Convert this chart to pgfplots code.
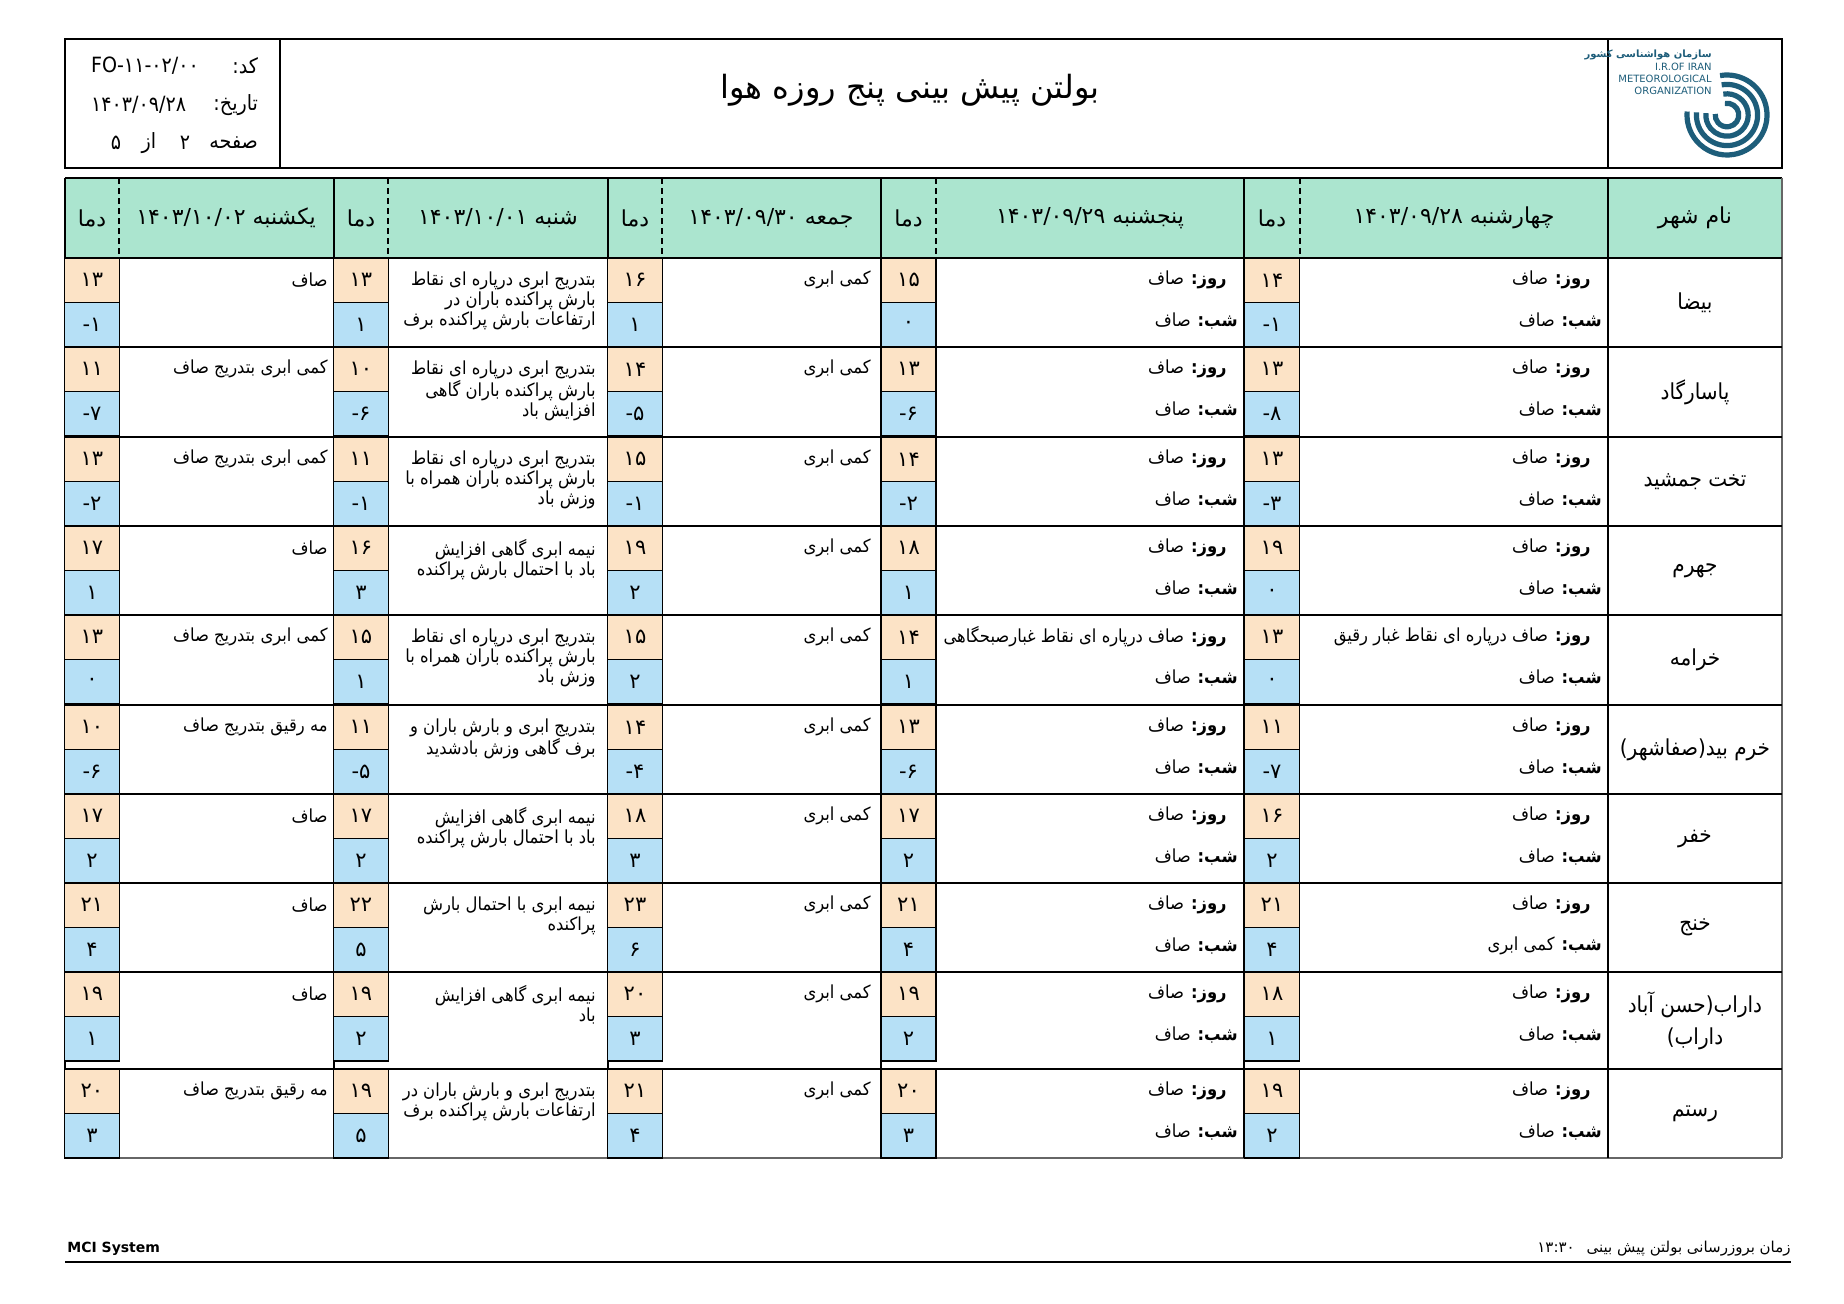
\documentclass[border=0pt]{standalone}
\usepackage{fontspec}
\usepackage{pgfplots}
\usepackage{pgfplotstable}
\pgfplotsset{compat=1.18}
\TeXXeTstate=1
\setmainfont{DejaVu Sans}
\newfontfamily\fa[Script=Arabic]{DejaVu Sans}
\newfontfamily\fac[Script=Arabic,FakeStretch=0.91]{DejaVu Sans}
\definecolor{hdr}{HTML}{ABE5CF}
\definecolor{hic}{HTML}{FCE3C6}
\definecolor{loc}{HTML}{B6E0F6}
\definecolor{logo}{HTML}{1D5D7A}

\newcommand\ctxt{\fontsize{9}{10}\selectfont\fac}
\newcommand\faDig[1]{\ifcase#1 ۰\or ۱\or ۲\or ۳\or ۴\or ۵\or ۶\or ۷\or ۸\or ۹\fi}
\def\faScan#1{\ifx\relax#1\else\if-#1\hbox{-}\else\faDig{#1}\fi\expandafter\faScan\fi}
\newcommand\faNum[1]{\edef\faTmp{#1}\expandafter\faScan\faTmp\relax}

% day / night lines (row top, right edge, day, night)
\newcommand\dn[4]{%
  \node[anchor=east,inner sep=0pt,font=\ctxt] at (axis cs:#2-11,#1+22) {\beginR{\bfseries روز:} #3\endR};
  \node[anchor=east,inner sep=0pt,font=\ctxt] at (axis cs:#2,#1+63) {\beginR{\bfseries شب:} #4\endR};}
\newcommand\one[3]{\node[anchor=east,inner sep=0pt,font=\ctxt] at (axis cs:#1,#2+22) {#3};}
\newcommand\sat[2]{\node[anchor=north east,align=right,inner sep=0pt,font=\ctxt] at (axis cs:596,#1+13) {#2};}
\newcommand\city[2]{\node[align=center,inner sep=0pt,font=\fontsize{11}{16}\selectfont\fac] at (axis cs:1695,#1) {#2};}
\newcommand\hd[2]{\node[font=\fontsize{11}{12}\selectfont\fa] at (axis cs:#1,218) {#2};}
\newcommand\ring[1]{\draw[logo, line width=2.6pt] (axis cs:1727,115) ++(100:#1pt) arc[start angle=100, end angle=-185, radius=#1pt];}

\pgfplotstableread{
ytop wedhi wedlo thuhi thulo frihi frilo sathi satlo sunhi sunlo
258  14 -1 15  0 16  1 13  1 13 -1
347  13 -8 13 -6 14 -5 10 -6 11 -7
437  13 -3 14 -2 15 -1 11 -1 13 -2
526  19  0 18  1 19  2 16  3 17  1
615  13  0 14  1 15  2 15  1 13  0
705  11 -7 13 -6 14 -4 11 -5 10 -6
794  16  2 17  2 18  3 17  2 17  2
883  21  4 21  4 23  6 22  5 21  4
972  18  1 19  2 20  3 19  2 19  1
1069 19  2 20  3 21  4 19  5 20  3
}\temps

\pgfplotsset{
  tcell/.style={mark=none, draw=none, point meta=explicit symbolic,
    nodes near coords={\faNum{\pgfplotspointmeta}},
    every node near coord/.append style={anchor=center, draw=black, line width=0.6pt,
      fill=#1, minimum width=27.5pt, minimum height=22.25pt, inner sep=0pt,
      font=\fontsize{10.5}{12}\selectfont\fa}},
}

\begin{document}
\begin{tikzpicture}
\begin{axis}[
  width=922pt, height=651.5pt, scale only axis,
  xmin=0, xmax=1844, ymin=0, ymax=1303, y dir=reverse,
  hide axis, clip=false,
]
\fill[white] (axis cs:0,0) rectangle (axis cs:1844,1303);

% header box
\draw[line width=1pt] (axis cs:65,39) rectangle (axis cs:1782,168);
\draw[line width=0.8pt] (axis cs:280,39) -- (axis cs:280,168) (axis cs:1608,39) -- (axis cs:1608,168);
\node[font=\fontsize{16}{18}\selectfont\fa] at (axis cs:910,90) {\beginR بولتن پیش بینی پنج روزه هوا\endR};
\node[anchor=east,font=\fontsize{10.5}{12}\selectfont\fac] at (axis cs:265,66) {کد:};
\node[anchor=west,font=\fontsize{10.5}{12}\selectfont\fac] at (axis cs:84,66) {FO-۱۱-۰۲/۰۰};
\node[anchor=east,font=\fontsize{10.5}{12}\selectfont\fac] at (axis cs:265,105) {تاریخ:};
\node[anchor=west,font=\fontsize{10.5}{12}\selectfont\fac] at (axis cs:84,105) {۱۴۰۳/۰۹/۲۸};
\node[anchor=east,font=\fontsize{10.5}{12}\selectfont\fac] at (axis cs:265,143) {صفحه};
\node[font=\fontsize{10.5}{12}\selectfont\fac] at (axis cs:185,143) {۲};
\node[font=\fontsize{10.5}{12}\selectfont\fac] at (axis cs:149,143) {از};
\node[font=\fontsize{10.5}{12}\selectfont\fac] at (axis cs:116,143) {۵};

% logo
\ring{20}
\ring{15.3}
\ring{10.6}
\ring{5.9}
\node[anchor=east,inner sep=0pt,text=logo,font=\fontsize{5}{6}\selectfont\bfseries\fa] at (axis cs:1712,55) {\beginR سازمان هواشناسی کشور\endR};
\node[anchor=east,inner sep=0pt,text=logo,font=\fontsize{5}{6}\selectfont] at (axis cs:1712,67) {I.R.OF IRAN};
\node[anchor=east,inner sep=0pt,text=logo,font=\fontsize{5}{6}\selectfont] at (axis cs:1712,79) {METEOROLOGICAL};
\node[anchor=east,inner sep=0pt,text=logo,font=\fontsize{5}{6}\selectfont] at (axis cs:1712,91) {ORGANIZATION};

% table header
\fill[hdr] (axis cs:65,178) rectangle (axis cs:1782,258);
\hd{1695}{\beginR نام شهر\endR}
\hd{1454}{\beginR چهارشنبه ۱۴۰۳/۰۹/۲۸\endR}
\hd{1090}{\beginR پنجشنبه ۱۴۰۳/۰۹/۲۹\endR}
\hd{771}{\beginR جمعه ۱۴۰۳/۰۹/۳۰\endR}
\hd{498}{\beginR شنبه ۱۴۰۳/۱۰/۰۱\endR}
\hd{226}{\beginR یکشنبه ۱۴۰۳/۱۰/۰۲\endR}
\hd{1272}{دما}
\hd{908.5}{دما}
\hd{635}{دما}
\hd{361}{دما}
\hd{92}{دما}

% temperature cells
\addplot[tcell=hic] table[x expr=1272, y expr=\thisrow{ytop}+22.25, meta=wedhi] {\temps};
\addplot[tcell=loc] table[x expr=1272, y expr=\thisrow{ytop}+66.75, meta=wedlo] {\temps};
\addplot[tcell=hic] table[x expr=908.5, y expr=\thisrow{ytop}+22.25, meta=thuhi] {\temps};
\addplot[tcell=loc] table[x expr=908.5, y expr=\thisrow{ytop}+66.75, meta=thulo] {\temps};
\addplot[tcell=hic] table[x expr=635, y expr=\thisrow{ytop}+22.25, meta=frihi] {\temps};
\addplot[tcell=loc] table[x expr=635, y expr=\thisrow{ytop}+66.75, meta=frilo] {\temps};
\addplot[tcell=hic] table[x expr=361, y expr=\thisrow{ytop}+22.25, meta=sathi] {\temps};
\addplot[tcell=loc] table[x expr=361, y expr=\thisrow{ytop}+66.75, meta=satlo] {\temps};
\addplot[tcell=hic] table[x expr=92, y expr=\thisrow{ytop}+22.25, meta=sunhi] {\temps};
\addplot[tcell=loc] table[x expr=92, y expr=\thisrow{ytop}+66.75, meta=sunlo] {\temps};

% grid
\draw[line width=0.8pt] (axis cs:65,178) -- (axis cs:1782,178);
\draw[line width=0.8pt] (axis cs:65,178) -- (axis cs:65,1158);
\draw[line width=0.6pt, black!60] (axis cs:65,1158) -- (axis cs:1782,1158) (axis cs:1782,178) -- (axis cs:1782,1158);
\draw[line width=1.4pt] (axis cs:65,258) -- (axis cs:1782,258)
  (axis cs:65,347) -- (axis cs:1782,347) (axis cs:65,437) -- (axis cs:1782,437)
  (axis cs:65,526) -- (axis cs:1782,526) (axis cs:65,615) -- (axis cs:1782,615)
  (axis cs:65,705) -- (axis cs:1782,705) (axis cs:65,794) -- (axis cs:1782,794)
  (axis cs:65,883) -- (axis cs:1782,883) (axis cs:65,972) -- (axis cs:1782,972)
  (axis cs:65,1069) -- (axis cs:1782,1069);
\draw[line width=0.8pt] (axis cs:334,178) -- (axis cs:334,1158) (axis cs:608,178) -- (axis cs:608,1158)
  (axis cs:881,178) -- (axis cs:881,1158) (axis cs:1244,178) -- (axis cs:1244,1158)
  (axis cs:1608,178) -- (axis cs:1608,1158);
\draw[line width=0.7pt, dash pattern=on 3pt off 2pt] (axis cs:119,178) -- (axis cs:119,258)
  (axis cs:388,178) -- (axis cs:388,258) (axis cs:662,178) -- (axis cs:662,258)
  (axis cs:936,178) -- (axis cs:936,258) (axis cs:1300,178) -- (axis cs:1300,258);

% cities
\city{302.5}{بیضا}
\city{392}{پاسارگاد}
\city{481.5}{\beginR تخت جمشید\endR}
\city{570.5}{جهرم}
\city{660}{خرامه}
\city{749.5}{\beginR خرم بید(صفاشهر)\endR}
\city{838.5}{خفر}
\city{927.5}{خنج}
\city{1020.5}{\beginR داراب(حسن آباد\endR\\داراب)}
\city{1113.5}{رستم}

% Wednesday
\dn{258}{1602}{صاف}{صاف}
\dn{347}{1602}{صاف}{صاف}
\dn{437}{1602}{صاف}{صاف}
\dn{526}{1602}{صاف}{صاف}
\dn{615}{1602}{صاف درپاره ای نقاط غبار رقیق}{صاف}
\dn{705}{1602}{صاف}{صاف}
\dn{794}{1602}{صاف}{صاف}
\dn{883}{1602}{صاف}{کمی ابری}
\dn{972}{1602}{صاف}{صاف}
\dn{1069}{1602}{صاف}{صاف}
% Thursday
\dn{258}{1238}{صاف}{صاف}
\dn{347}{1238}{صاف}{صاف}
\dn{437}{1238}{صاف}{صاف}
\dn{526}{1238}{صاف}{صاف}
\dn{615}{1238}{صاف درپاره ای نقاط غبارصبحگاهی}{صاف}
\dn{705}{1238}{صاف}{صاف}
\dn{794}{1238}{صاف}{صاف}
\dn{883}{1238}{صاف}{صاف}
\dn{972}{1238}{صاف}{صاف}
\dn{1069}{1238}{صاف}{صاف}
% Friday
\one{871}{258}{\beginR کمی ابری\endR}
\one{871}{347}{\beginR کمی ابری\endR}
\one{871}{437}{\beginR کمی ابری\endR}
\one{871}{526}{\beginR کمی ابری\endR}
\one{871}{615}{\beginR کمی ابری\endR}
\one{871}{705}{\beginR کمی ابری\endR}
\one{871}{794}{\beginR کمی ابری\endR}
\one{871}{883}{\beginR کمی ابری\endR}
\one{871}{972}{\beginR کمی ابری\endR}
\one{871}{1069}{\beginR کمی ابری\endR}
% Saturday
\sat{258}{\beginR بتدریج ابری درپاره ای نقاط\endR\\\beginR بارش پراکنده باران در\endR\\\beginR ارتفاعات بارش پراکنده برف\endR}
\sat{347}{\beginR بتدریج ابری درپاره ای نقاط\endR\\\beginR بارش پراکنده باران گاهی\endR\\\beginR افزایش باد\endR}
\sat{437}{\beginR بتدریج ابری درپاره ای نقاط\endR\\\beginR بارش پراکنده باران همراه با\endR\\\beginR وزش باد\endR}
\sat{526}{\beginR نیمه ابری گاهی افزایش\endR\\\beginR باد با احتمال بارش پراکنده\endR}
\sat{615}{\beginR بتدریج ابری درپاره ای نقاط\endR\\\beginR بارش پراکنده باران همراه با\endR\\\beginR وزش باد\endR}
\sat{705}{\beginR بتدریج ابری و بارش باران و\endR\\\beginR برف گاهی وزش بادشدید\endR}
\sat{794}{\beginR نیمه ابری گاهی افزایش\endR\\\beginR باد با احتمال بارش پراکنده\endR}
\sat{883}{\beginR نیمه ابری با احتمال بارش\endR\\پراکنده}
\sat{972}{\beginR نیمه ابری گاهی افزایش\endR\\باد}
\sat{1069}{\beginR بتدریج ابری و بارش باران در\endR\\\beginR ارتفاعات بارش پراکنده برف\endR}
% Sunday
\one{328}{258}{صاف}
\one{328}{347}{\beginR کمی ابری بتدریج صاف\endR}
\one{328}{437}{\beginR کمی ابری بتدریج صاف\endR}
\one{328}{526}{صاف}
\one{328}{615}{\beginR کمی ابری بتدریج صاف\endR}
\one{328}{705}{\beginR مه رقیق بتدریج صاف\endR}
\one{328}{794}{صاف}
\one{328}{883}{صاف}
\one{328}{972}{صاف}
\one{328}{1069}{\beginR مه رقیق بتدریج صاف\endR}

% footer
\draw[line width=1.2pt] (axis cs:65,1262) -- (axis cs:1791,1262);
\node[anchor=west,inner sep=0pt,font=\fontsize{7}{8}\selectfont\bfseries] at (axis cs:67,1249) {MCI System};
\node[anchor=east,inner sep=0pt,font=\fontsize{7.5}{9}\selectfont\fa] at (axis cs:1791,1249) {\beginR زمان بروزرسانی بولتن پیش بینی\hspace{6pt}۱۳:۳۰\endR};
\end{axis}
\end{tikzpicture}
\end{document}
